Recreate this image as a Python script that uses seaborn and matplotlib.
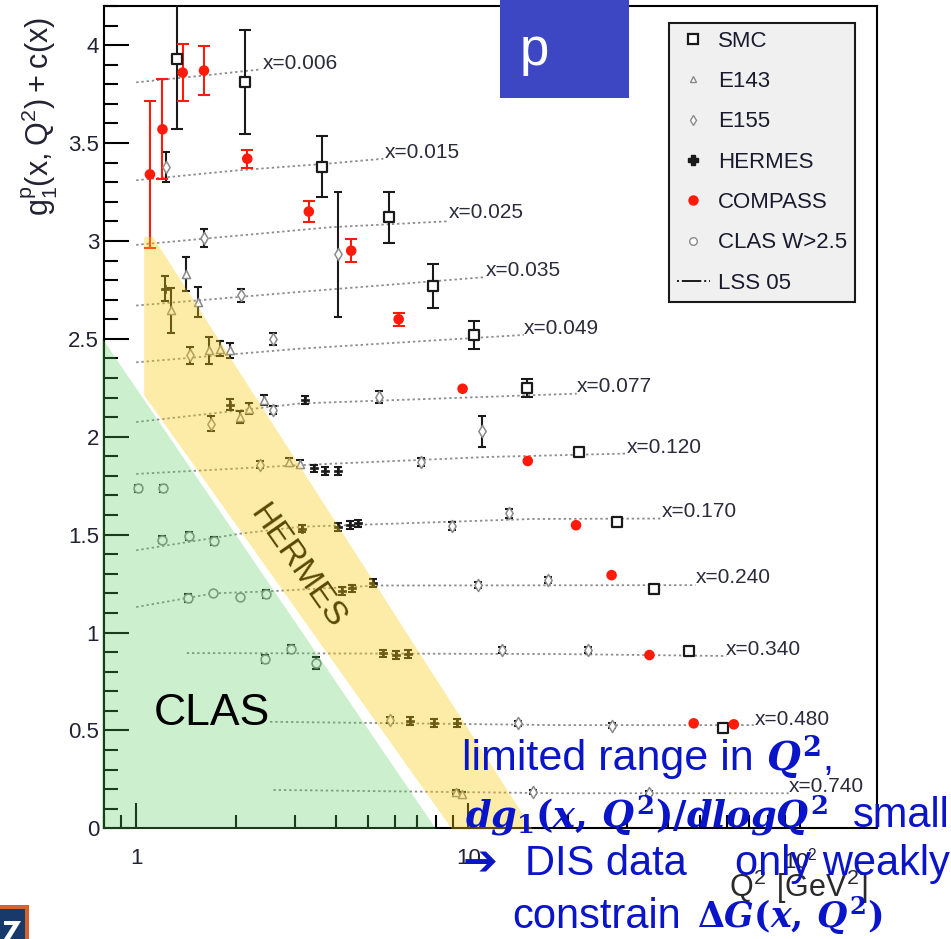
import matplotlib
matplotlib.use("Agg")
import matplotlib.pyplot as plt
import numpy as np
import seaborn as sns
from matplotlib.lines import Line2D
from matplotlib.patches import Polygon, Rectangle
from matplotlib.ticker import (FixedLocator, FuncFormatter, LogLocator,
                               MultipleLocator, NullFormatter)

# ---------------------------------------------------------------- data
# g1^p(x, Q^2) + c(x) versus Q^2 [GeV^2]

smc_q2 = [1.33, 2.13, 3.63, 5.75, 7.83, 10.4, 15.0, 21.5, 28.0, 36.3, 46.1, 58.5]
smc_g1 = [3.93, 3.81, 3.38, 3.12, 2.77, 2.52, 2.25, 1.92, 1.565, 1.22, 0.905, 0.514]
smc_err = [0.36, 0.265, 0.155, 0.13, 0.11, 0.07, 0.045, 0.02, 0.02, 0.015, 0.015, 0.01]

compass_q2 = [1.10, 1.20, 1.38, 1.60, 2.16, 3.31, 4.44, 6.17, 9.61, 15.1, 21.1,
              27.0, 35.1, 47.7, 63.0]
compass_g1 = [3.34, 3.57, 3.86, 3.87, 3.42, 3.15, 2.95, 2.60, 2.245, 1.876, 1.548,
              1.293, 0.885, 0.536, 0.531]
compass_err = [0.377, 0.256, 0.147, 0.124, 0.045, 0.055, 0.058, 0.034, 0.0, 0.0,
               0.0, 0.0, 0.0, 0.0, 0.0]

e143_q2 = [1.41, 1.53, 1.275, 1.66, 1.79, 1.92, 2.05, 2.19, 2.42, 2.88, 3.12, 9.2, 9.6]
e143_g1 = [2.833, 2.688, 2.646, 2.441, 2.450, 2.441, 2.101, 2.144, 2.186, 1.871,
           1.863, 0.184, 0.176]
e143_err = [0.087, 0.075, 0.115, 0.068, 0.04, 0.04, 0.03, 0.03, 0.025, 0.02, 0.02,
            0.01, 0.01]

e155_q2 = [1.23, 1.60, 2.07, 4.04, 1.45, 2.59, 1.68, 2.58, 5.37, 2.36, 7.20, 11.0,
           8.96, 13.25, 10.7, 17.4, 12.6, 23.0, 5.80, 14.1, 27.0, 15.7, 34.9]
e155_g1 = [3.377, 3.015, 2.722, 2.932, 2.416, 2.498, 2.067, 2.135, 2.203, 1.858,
           1.871, 2.028, 1.543, 1.608, 1.242, 1.267, 0.910, 0.910, 0.553, 0.536,
           0.524, 0.184, 0.179]
e155_err = [0.075, 0.046, 0.035, 0.32, 0.042, 0.03, 0.04, 0.02, 0.03, 0.02, 0.02,
            0.08, 0.02, 0.025, 0.015, 0.015, 0.015, 0.015, 0.015, 0.012, 0.012,
            0.01, 0.01]

hermes_q2 = [1.22, 1.92, 3.23, 3.42, 3.71, 4.04, 3.16, 4.06, 4.39, 4.65, 4.16, 4.47,
             5.18, 5.53, 6.07, 6.56, 6.69, 7.86, 9.23]
hermes_g1 = [2.757, 2.164, 2.186, 1.838, 1.826, 1.826, 1.531, 1.540, 1.548, 1.557,
             1.213, 1.225, 1.251, 0.893, 0.885, 0.890, 0.549, 0.536, 0.536]
hermes_err = [0.065, 0.03, 0.02, 0.02, 0.02, 0.02, 0.02, 0.02, 0.02, 0.02, 0.02,
              0.02, 0.02, 0.02, 0.02, 0.02, 0.02, 0.02, 0.02]

clas_q2 = [1.016, 1.203, 1.195, 1.447, 1.716, 1.437, 1.709, 2.056, 2.458, 2.435,
           2.93, 3.486]
clas_g1 = [1.736, 1.736, 1.475, 1.494, 1.468, 1.177, 1.200, 1.182, 1.195, 0.864,
           0.914, 0.845]
clas_err = [0.02, 0.02, 0.02, 0.02, 0.02, 0.02, 0.0, 0.0, 0.02, 0.02, 0.02, 0.03]

# LSS 05 curves, one per x bin
lss_bins = ["0.006", "0.015", "0.025", "0.035", "0.049", "0.077", "0.120", "0.170",
            "0.240", "0.340", "0.480", "0.740"]
lss_q2 = [
    [1.0, 1.6, 2.36],
    [1.0, 2.0, 3.84, 5.55],
    [1.0, 3.84, 8.6],
    [1.0, 3.12, 11.2],
    [1.0, 3.12, 14.7],
    [1.0, 3.12, 21.2],
    [1.0, 3.12, 11.6, 29.9],
    [1.0, 2.06, 3.12, 15.7, 37.9],
    [1.0, 1.71, 2.48, 5.3, 48.3],
    [1.42, 18.9, 59.8],
    [2.53, 18.9, 72.3],
    [2.59, 18.9, 92.2],
]
lss_g1 = [
    [3.81, 3.845, 3.876],
    [3.31, 3.36, 3.396, 3.42],
    [2.98, 3.07, 3.10],
    [2.67, 2.74, 2.815],
    [2.38, 2.45, 2.52],
    [2.075, 2.17, 2.22],
    [1.81, 1.855, 1.897, 1.914],
    [1.42, 1.505, 1.54, 1.58, 1.582],
    [1.13, 1.20, 1.21, 1.24, 1.242],
    [0.895, 0.89, 0.88],
    [0.544, 0.527, 0.527],
    [0.196, 0.179, 0.179],
]
label_q2 = [2.40, 5.62, 8.72, 11.25, 14.68, 21.26, 29.9, 38.1, 48.3, 59.7, 72.7, 92.2]
label_g1 = [3.907, 3.452, 3.146, 2.850, 2.554, 2.258, 1.946, 1.620, 1.280, 0.914,
            0.556, 0.212]

# kinematic regions (Q^2, value) of the shaded bands
clas_band_q2 = [0.79, 0.79, 7.98]
clas_band_g1 = [2.503, -0.006, -0.006]
hermes_band_q2 = [1.057, 1.124, 15.6, 8.95, 1.057]
hermes_band_g1 = [3.02, 3.02, -0.006, -0.006, 2.212]

legend_labels = ["SMC", "E143", "E155", "HERMES", "COMPASS", "CLAS W>2.5", "LSS 05"]

# ---------------------------------------------------------------- style
sns.set_theme(style="ticks")
plt.rcParams["font.family"] = ["Liberation Sans", "DejaVu Sans"]
plt.rcParams["mathtext.fontset"] = "custom"
plt.rcParams["mathtext.rm"] = "DejaVu Serif:bold"
plt.rcParams["mathtext.it"] = "DejaVu Serif:italic:bold"
plt.rcParams["mathtext.bf"] = "DejaVu Serif:bold"
plt.rcParams["mathtext.sf"] = "Liberation Sans"

W, H = 951, 939
fig = plt.figure(figsize=(W / 100, H / 100), dpi=100)
fig.patch.set_facecolor("white")


def fx(px):
    return px / W


def fy(py):
    return 1 - py / H


ax = fig.add_axes([fx(104), fy(828.3), (877 - 104) / W, (828.3 - 6) / H])
ax.set_facecolor("white")
ax.set_xscale("log")
ax.set_xlim(0.8, 170)
ax.set_ylim(0, 4.2)

# LSS 05 curves and their x labels
LSS_GREY = "#8c8c8c"
for name, q, g, lq, lg in zip(lss_bins, lss_q2, lss_g1, label_q2, label_g1):
    sns.lineplot(x=q, y=g, ax=ax, color=LSS_GREY, lw=1.3, linestyle=(0, (1.3, 1.6)),
                 estimator=None, sort=False, zorder=2)
    ax.text(lq, lg, f"x={name}", fontsize=15, color="#2b2b3b", ha="left",
            va="center", zorder=3)


def draw_set(q, g, e, marker, size, face, edge, lw, ecolor, capsize):
    q = np.asarray(q)
    g = np.asarray(g)
    e = np.asarray(e)
    m = e > 0
    ax.errorbar(q[m], g[m], yerr=e[m], fmt="none", ecolor=ecolor, elinewidth=1.5,
                capsize=capsize, capthick=1.5, zorder=3)
    sns.scatterplot(x=q, y=g, ax=ax, marker=marker, s=size, color=face,
                    edgecolor=edge, linewidth=lw, zorder=3.5, legend=False)


GREY = "#8a8a8a"
draw_set(clas_q2, clas_g1, clas_err, "o", 40, "white", GREY, 1.2, "#111111", 3)
draw_set(e143_q2, e143_g1, e143_err, "^", 34, "white", GREY, 1.1, "k", 3)
draw_set(e155_q2, e155_g1, e155_err, "d", 38, "white", GREY, 1.1, "k", 3)
draw_set(hermes_q2, hermes_g1, hermes_err, "P", 40, "k", "k", 0.5, "k", 3)
draw_set(smc_q2, smc_g1, smc_err, "s", 50, "white", "k", 1.6, "k", 4)
draw_set(compass_q2, compass_g1, compass_err, "o", 58, "#ff1a0a", "none", 0, "#ff1a0a", 4)

# shaded kinematic regions, laid over points and axes
ax.text(3.056, 1.334, "HERMES", rotation=-55, rotation_mode="anchor", ha="center",
        va="center", fontsize=24, color="black", zorder=3.6)
ax.add_patch(Polygon(np.column_stack([clas_band_q2, clas_band_g1]), closed=True,
                     facecolor=(0.35, 0.80, 0.37), alpha=0.30, edgecolor="none",
                     zorder=4, clip_on=False))
ax.add_patch(Polygon(np.column_stack([hermes_band_q2, hermes_band_g1]), closed=True,
                     facecolor=(0.98, 0.80, 0.05), alpha=0.36, edgecolor="none",
                     zorder=4, clip_on=False))
ax.text(1.127, 0.527, "CLAS", fontsize=32, color="black", ha="left", va="baseline",
        zorder=6)

# axes, ticks
for sp in ax.spines.values():
    sp.set_linewidth(1.5)
    sp.set_color("black")
ax.yaxis.set_major_locator(MultipleLocator(0.5))
ax.yaxis.set_minor_locator(MultipleLocator(0.1))
ax.yaxis.set_major_formatter(FuncFormatter(lambda v, p: f"{v:g}"))
ax.xaxis.set_major_locator(FixedLocator([1, 10, 100]))
ax.xaxis.set_minor_locator(LogLocator(base=10, subs=np.arange(2, 10), numticks=20))
xlab = {1: "1", 10: "10", 100: r"$\mathsf{10^{2}}$"}
ax.xaxis.set_major_formatter(FuncFormatter(lambda v, p: xlab.get(int(round(v)), "")))
ax.xaxis.set_minor_formatter(NullFormatter())
ax.tick_params(axis="both", which="both", direction="in", top=False, right=False,
               color="black", labelcolor="#222233", labelsize=16, width=1.5)
ax.tick_params(axis="y", which="major", length=18, pad=3.5)
ax.tick_params(axis="y", which="minor", length=10)
ax.tick_params(axis="x", which="major", length=18, pad=14)
ax.tick_params(axis="x", which="minor", length=9.5)
ax.set_xlabel("")
ax.set_ylabel("")

# legend
handles = [
    Line2D([], [], marker="s", ls="none", mfc="white", mec="k", mew=1.6, ms=7),
    Line2D([], [], marker="^", ls="none", mfc="white", mec=GREY, mew=1.0, ms=5),
    Line2D([], [], marker="d", ls="none", mfc="white", mec=GREY, mew=1.0, ms=5.5),
    Line2D([], [], marker="P", ls="none", mfc="k", mec="k", ms=7),
    Line2D([], [], marker="o", ls="none", mfc="#ff1a0a", mec="none", ms=7.5),
    Line2D([], [], marker="o", ls="none", mfc="white", mec=GREY, mew=1.0, ms=5.5),
    Line2D([], [], color="k", lw=1.4, ls=(0, (1, 1.5, 10, 1.5, 1, 1.5))),
]
leg = ax.legend(handles, legend_labels, loc="upper left",
                bbox_to_anchor=(fx(669), fy(23)), bbox_transform=fig.transFigure,
                borderaxespad=0, frameon=True, fancybox=False, fontsize=16,
                borderpad=0.35, labelspacing=0.87, handlelength=1.5,
                handletextpad=0.36, edgecolor="k", facecolor="#f0f0f0",
                framealpha=1)
leg.get_frame().set_linewidth(1.5)
leg.set_zorder(7)
for t in leg.get_texts():
    t.set_color("#1a1a2e")

# axis titles
fig.text(fx(40), fy(17), r"$\mathsf{g_1^p(x,Q^2)+c(x)}$", rotation=90, ha="center",
         va="top", fontsize=22, color="#222233")
fig.text(fx(867), fy(887), r"$\mathsf{Q^2\ [GeV^2]}$", ha="right", va="center",
         fontsize=22, color="#2a2a2a")

# target tag
fig.patches.append(Rectangle((fx(500), fy(97.5)), (629 - 500) / W, 97.5 / H,
                             transform=fig.transFigure, facecolor="#3d47c4",
                             edgecolor="none", zorder=10))
fig.text(fx(520), fy(65), "p", color="white", fontsize=38, ha="left", va="baseline",
         zorder=11)

# logo corner
fig.patches.append(Rectangle((0, fy(939)), 29 / W, 34 / H, transform=fig.transFigure,
                             facecolor="#d9622b", edgecolor="none", zorder=10))
fig.patches.append(Rectangle((0, fy(939)), 25 / W, 30 / H, transform=fig.transFigure,
                             facecolor="#173a6b", edgecolor="none", zorder=11))
fig.patches.append(Polygon([(fx(4), fy(921)), (fx(21), fy(921)), (fx(10), fy(939)),
                            (fx(4), fy(939)), (fx(13), fy(925)), (fx(4), fy(925))],
                           closed=True, transform=fig.transFigure, facecolor="white",
                           edgecolor="none", zorder=12))

# commentary
BLUE = "#0a14c8"
fig.text(fx(462), fy(770), "limited range in", fontsize=31, color=BLUE,
         ha="left", va="baseline", zorder=20)
fig.text(fx(766), fy(770), r"$Q^2$,", fontsize=28, color=BLUE, ha="left",
         va="baseline", zorder=20)
fig.text(fx(465), fy(827), r"$dg_1(x,\,Q^2)/dlogQ^2$", fontsize=26.5, color=BLUE,
         ha="left", va="baseline", zorder=20)
fig.text(fx(950), fy(827), "small", fontsize=30, color=BLUE, ha="right",
         va="baseline", zorder=20)
fig.text(fx(463), fy(875), "\u2794", fontsize=30, color=BLUE, ha="left",
         va="baseline", family=["DejaVu Sans"], zorder=20)
fig.text(fx(525), fy(875), "DIS data", fontsize=30, color=BLUE, ha="left",
         va="baseline", zorder=20)
fig.text(fx(950), fy(875), "only weakly", fontsize=30, color=BLUE, ha="right",
         va="baseline", zorder=20)
fig.text(fx(512), fy(928), "constrain", fontsize=30, color=BLUE, ha="left",
         va="baseline", zorder=20)
fig.text(fx(697), fy(928), r"$\Delta G(x,\,Q^2)$", fontsize=25, color=BLUE,
         ha="left", va="baseline", zorder=20)

fig.savefig("out.png", dpi=100)
